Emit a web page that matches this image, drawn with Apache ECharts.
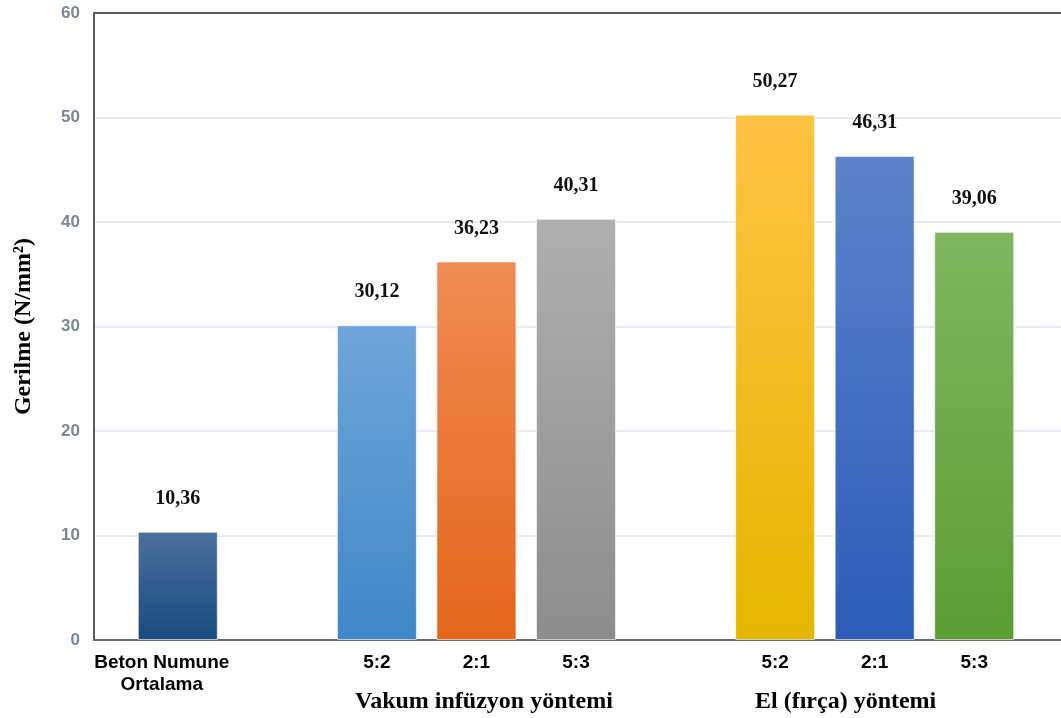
<!DOCTYPE html>
<html>
<head>
<meta charset="utf-8">
<script src="https://cdn.jsdelivr.net/npm/echarts@6/dist/echarts.min.js"></script>
<style>
  html, body { margin: 0; padding: 0; background: #ffffff; }
  #chart { width: 1061px; height: 718px; }
</style>
</head>
<body>
<div id="chart"></div>
<script>
// Category slots: one for the reference concrete, a spacer, three vacuum infusion
// ratios, a spacer, three hand lay-up ratios.
const categories = ['beton', 'gap1', 'vak52', 'vak21', 'vak53', 'gap2', 'el52', 'el21', 'el53'];
const tickLabels = ['Beton Numune\nOrtalama', '', '5:2', '2:1', '5:3', '', '5:2', '2:1', '5:3'];
const stressValues = [10.36, null, 30.12, 36.23, 40.31, null, 50.27, 46.31, 39.06];
const groupLabels = ['Vakum infüzyon yöntemi', 'El (fırça) yöntemi'];
const yTicks = [0, 10, 20, 30, 40, 50, 60];

// Top / bottom gradient stops for each bar
const barColors = [
  ['#4b709d', '#184b80'],
  null,
  ['#70a5da', '#3f87c8'],
  ['#f08b55', '#e3661b'],
  ['#afafaf', '#8d8d8d'],
  null,
  ['#ffc244', '#e5b600'],
  ['#5c82ca', '#2d5db8'],
  ['#80b660', '#5b9d33']
];

const chart = echarts.init(document.getElementById('chart'));

const seriesData = stressValues.map((v, i) => {
  if (v === null) return '-';
  const c = barColors[i];
  return {
    value: v,
    itemStyle: {
      color: new echarts.graphic.LinearGradient(0, 0, 0, 1, [
        { offset: 0, color: c[0] },
        { offset: 1, color: c[1] }
      ]),
      borderColor: 'rgba(255,255,255,0.6)',
      borderWidth: 1
    }
  };
});

// Multi-line tick labels are padded on the right so they sit a little left of the bar
function tickFormatter(v, i) {
  const t = tickLabels[i];
  if (t.indexOf('\n') < 0) return t;
  return t.split('\n').map(s => '{wide|' + s + '}').join('\n');
}

const tickFont = {
  fontFamily: 'Liberation Sans, Arial, sans-serif',
  fontWeight: 'bold',
  fontSize: 19,
  lineHeight: 22,
  color: '#000000'
};

const option = {
  animation: false,
  backgroundColor: '#ffffff',
  grid: [
    // frame: axis lines, grid lines, value ticks
    { left: 94, right: 0, top: 13, bottom: 78 },
    // bars
    { left: 128, right: 37, top: 13, bottom: 78 }
  ],
  xAxis: [
    {
      type: 'value', gridIndex: 0, min: 0, max: 1, position: 'bottom',
      axisLine: { show: true, lineStyle: { color: '#6a6a6a', width: 2 } },
      axisTick: { show: false }, axisLabel: { show: false }, splitLine: { show: false }
    },
    {
      type: 'value', gridIndex: 0, min: 0, max: 1, position: 'top',
      axisLine: { show: true, lineStyle: { color: '#5a5a5a', width: 2 } },
      axisTick: { show: false }, axisLabel: { show: false }, splitLine: { show: false }
    },
    {
      type: 'category', gridIndex: 1, data: categories,
      axisLine: { show: false }, axisTick: { show: false },
      axisLabel: Object.assign({
        interval: 0,
        margin: 12,
        formatter: tickFormatter,
        rich: {
          wide: Object.assign({ padding: [0, 32, 0, 0] }, tickFont)
        }
      }, tickFont)
    }
  ],
  yAxis: [
    {
      type: 'value', gridIndex: 0, min: 0, max: 60, interval: 10,
      name: 'Gerilme (N/mm²)',
      nameLocation: 'middle',
      nameGap: 58,
      nameTextStyle: {
        fontFamily: 'Liberation Serif, Times New Roman, serif',
        fontWeight: 'bold',
        fontSize: 24,
        color: '#000000'
      },
      axisLine: { show: true, lineStyle: { color: '#5a5a5a', width: 2 } },
      axisTick: { show: false },
      axisLabel: {
        margin: 14,
        formatter: (v) => (yTicks.indexOf(v) >= 0 ? String(v) : ''),
        fontFamily: 'Liberation Sans, Arial, sans-serif',
        fontWeight: 'bold',
        fontSize: 17,
        color: '#7c8694'
      },
      splitLine: { show: true, lineStyle: { color: '#e8ecf2', width: 2 } }
    },
    {
      type: 'value', gridIndex: 1, min: 0, max: 60, interval: 10,
      axisLine: { show: false }, axisTick: { show: false },
      axisLabel: { show: false }, splitLine: { show: false }
    }
  ],
  series: [
    {
      type: 'bar',
      xAxisIndex: 2,
      yAxisIndex: 1,
      barWidth: 80,
      data: seriesData,
      label: {
        show: true,
        position: 'top',
        distance: 23,
        formatter: (p) => p.value.toFixed(2).replace('.', ','),
        fontFamily: 'Liberation Serif, Times New Roman, serif',
        fontWeight: 'bold',
        fontSize: 20,
        color: '#111111'
      }
    }
  ],
  graphic: [
    {
      type: 'text', left: 355, top: 690,
      style: {
        text: groupLabels[0],
        font: 'bold 24px "Liberation Serif", "Times New Roman", serif',
        fill: '#000000'
      }
    },
    {
      type: 'text', left: 755, top: 690,
      style: {
        text: groupLabels[1],
        font: 'bold 24px "Liberation Serif", "Times New Roman", serif',
        fill: '#000000'
      }
    }
  ]
};

chart.setOption(option);
</script>
</body>
</html>
